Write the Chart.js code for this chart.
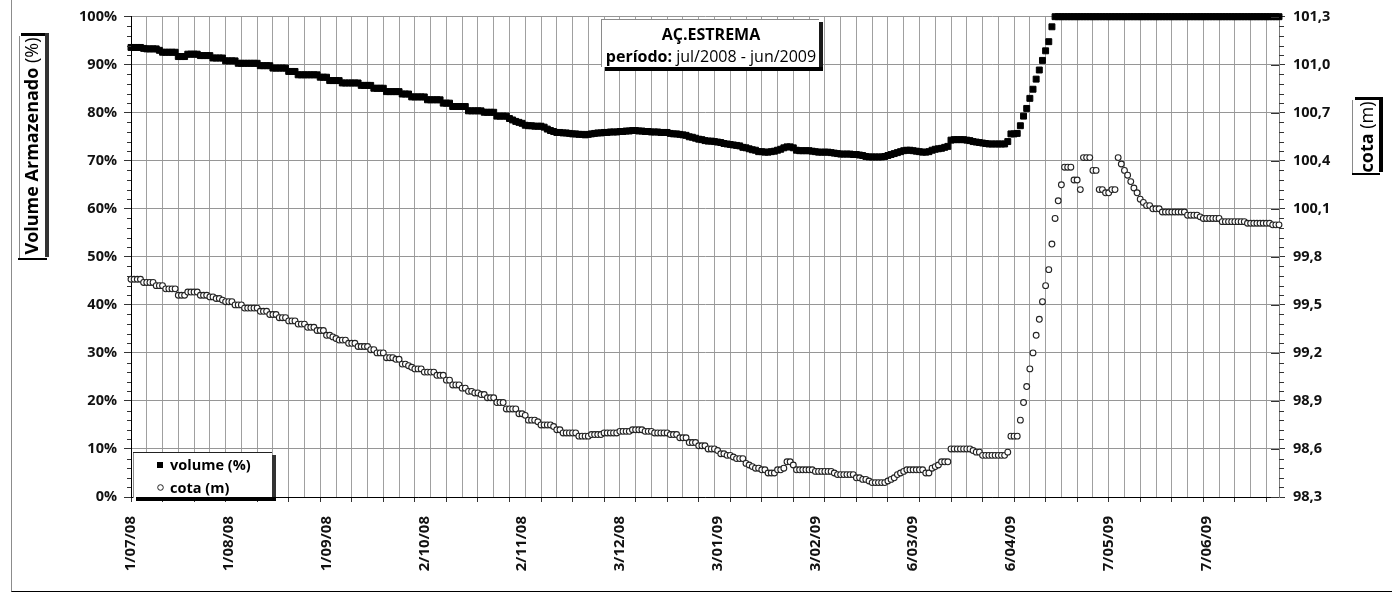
<!DOCTYPE html>
<html><head><meta charset="utf-8">
<script src="https://cdn.jsdelivr.net/npm/chart.js@4.4.1/dist/chart.umd.min.js"></script>
<style>
html,body{margin:0;padding:0;background:#fff;overflow:hidden}
#wrap{position:relative;width:1392px;height:593px;background:#fff}
#frame{position:absolute;left:11px;top:-5px;width:1400px;height:597px;box-sizing:border-box;border-left:1px solid #8c8c8c;border-bottom:1px solid #000;pointer-events:none}
canvas{position:absolute;left:0;top:0}
</style></head><body>
<div id="wrap"><canvas id="c" width="1392" height="593" style="width:1392px;height:593px"></canvas><div id="frame"></div></div>
<script>
const chartTitle = 'AÇ.ESTREMA';
const periodLabel = 'período: ';
const periodText = 'jul/2008 - jun/2009';
const leftAxisTitle = ['Volume Armazenado ', '(%)'];
const rightAxisTitle = ['cota ', '(m)'];
const seriesNames = ['volume (%)', 'cota (m)'];

// x: day index counted from 1/07/2008
const dateTickDays = [0, 31, 62, 93, 124, 155, 186, 217, 248, 279, 310, 341];
const dateTickLabels = ['1/07/08', '1/08/08', '1/09/08', '2/10/08', '2/11/08', '3/12/08', '3/01/09', '3/02/09', '6/03/09', '6/04/09', '7/05/09', '7/06/09'];
const volumeTicks = [0, 10, 20, 30, 40, 50, 60, 70, 80, 90, 100];
const volumeTickLabels = ['0%', '10%', '20%', '30%', '40%', '50%', '60%', '70%', '80%', '90%', '100%'];
const cotaTicks = [98.3, 98.6, 98.9, 99.2, 99.5, 99.8, 100.1, 100.4, 100.7, 101.0, 101.3];
const cotaTickLabels = ['98,3', '98,6', '98,9', '99,2', '99,5', '99,8', '100,1', '100,4', '100,7', '101,0', '101,3'];

// daily volume (%)
const volume = [
93.6,93.6,93.6,93.6,93.4,93.3,93.3,93.3,93.3,93.0,
92.6,92.6,92.6,92.6,92.6,91.7,91.7,91.7,92.2,92.2,
92.2,92.2,91.9,91.9,91.9,91.9,91.4,91.4,91.4,91.4,
90.8,90.8,90.8,90.8,90.3,90.3,90.3,90.3,90.3,90.3,
90.3,89.8,89.8,89.8,89.8,89.3,89.3,89.3,89.3,89.3,
88.6,88.6,88.6,87.9,87.9,87.9,87.9,87.9,87.9,87.9,
87.4,87.4,87.4,86.7,86.7,86.7,86.7,86.2,86.2,86.2,
86.2,86.2,86.2,85.7,85.7,85.7,85.7,85.1,85.1,85.1,
85.1,84.4,84.4,84.4,84.4,84.4,83.9,83.9,83.9,83.3,
83.3,83.3,83.3,83.3,82.7,82.7,82.7,82.7,82.7,82.0,
82.0,82.0,81.3,81.3,81.3,81.3,81.3,80.4,80.4,80.4,
80.4,80.4,80.1,80.1,80.1,80.1,79.3,79.3,79.3,79.3,
78.8,78.5,78.2,78.0,77.8,77.4,77.3,77.3,77.2,77.2,
77.2,77.0,76.6,76.3,76.1,75.9,75.9,75.8,75.8,75.7,
75.6,75.6,75.5,75.5,75.4,75.5,75.6,75.7,75.8,75.8,
75.9,75.9,76.0,76.0,76.0,76.1,76.1,76.2,76.2,76.3,
76.3,76.2,76.2,76.1,76.1,76.0,76.0,76.0,75.9,75.9,
75.9,75.7,75.6,75.6,75.5,75.4,75.3,75.0,74.9,74.7,
74.5,74.4,74.2,74.1,74.1,74.0,73.9,73.8,73.6,73.5,
73.4,73.3,73.2,73.1,72.8,72.7,72.5,72.3,72.2,71.9,
71.9,71.8,71.8,71.9,72.0,72.2,72.4,72.7,72.9,72.9,
72.7,72.2,72.1,72.1,72.1,72.1,72.0,71.9,71.8,71.8,
71.8,71.8,71.7,71.6,71.5,71.4,71.4,71.4,71.4,71.3,
71.3,71.2,71.1,70.9,70.8,70.8,70.8,70.8,70.8,70.9,
71.1,71.3,71.5,71.7,71.9,72.1,72.2,72.2,72.1,72.0,
71.9,71.8,71.8,71.9,72.2,72.4,72.5,72.6,72.8,73.0,
74.3,74.4,74.4,74.4,74.4,74.3,74.2,74.0,73.9,73.8,
73.7,73.6,73.5,73.5,73.5,73.5,73.5,73.5,74.0,75.6,
75.6,75.7,77.3,79.3,80.9,83.0,84.9,87.0,88.9,90.9,
92.9,94.8,97.9,100,100,100,100,100,100,100,
100,100,100,100,100,100,100,100,100,100,
100,100,100,100,100,100,100,100,100,100,
100,100,100,100,100,100,100,100,100,100,
100,100,100,100,100,100,100,100,100,100,
100,100,100,100,100,100,100,100,100,100,
100,100,100,100,100,100,100,100,100,100,
100,100,100,100,100
];

// daily cota (m)
const cota = [
99.66,99.66,99.66,99.66,99.64,99.64,99.64,99.64,99.62,99.62,
99.62,99.60,99.60,99.60,99.60,99.56,99.56,99.56,99.58,99.58,
99.58,99.58,99.56,99.56,99.56,99.55,99.55,99.54,99.54,99.53,
99.52,99.52,99.52,99.50,99.50,99.50,99.48,99.48,99.48,99.48,
99.48,99.46,99.46,99.46,99.44,99.44,99.44,99.42,99.42,99.42,
99.40,99.40,99.40,99.38,99.38,99.38,99.36,99.36,99.36,99.34,
99.34,99.34,99.31,99.31,99.30,99.29,99.28,99.28,99.28,99.26,
99.26,99.26,99.24,99.24,99.24,99.24,99.22,99.22,99.20,99.20,
99.20,99.17,99.17,99.17,99.16,99.16,99.13,99.13,99.12,99.11,
99.10,99.10,99.10,99.08,99.08,99.08,99.08,99.06,99.06,99.06,
99.03,99.03,99.00,99.00,99.00,98.98,98.98,98.96,98.96,98.95,
98.95,98.94,98.94,98.92,98.92,98.92,98.89,98.89,98.89,98.85,
98.85,98.85,98.85,98.82,98.82,98.81,98.78,98.78,98.78,98.77,
98.75,98.75,98.75,98.75,98.74,98.72,98.72,98.70,98.70,98.70,
98.70,98.70,98.68,98.68,98.68,98.68,98.69,98.69,98.69,98.69,
98.70,98.70,98.70,98.70,98.70,98.71,98.71,98.71,98.71,98.72,
98.72,98.72,98.72,98.71,98.71,98.71,98.70,98.70,98.70,98.70,
98.70,98.69,98.69,98.69,98.67,98.67,98.67,98.64,98.64,98.64,
98.62,98.62,98.62,98.60,98.60,98.60,98.59,98.57,98.57,98.56,
98.56,98.55,98.54,98.54,98.54,98.51,98.50,98.49,98.48,98.48,
98.47,98.47,98.45,98.45,98.45,98.47,98.47,98.48,98.52,98.52,
98.50,98.47,98.47,98.47,98.47,98.47,98.47,98.46,98.46,98.46,
98.46,98.46,98.46,98.45,98.44,98.44,98.44,98.44,98.44,98.44,
98.42,98.42,98.41,98.41,98.40,98.39,98.39,98.39,98.39,98.39,
98.40,98.41,98.42,98.44,98.45,98.46,98.47,98.47,98.47,98.47,
98.47,98.47,98.45,98.45,98.48,98.49,98.50,98.52,98.52,98.52,
98.60,98.60,98.60,98.60,98.60,98.60,98.60,98.59,98.58,98.58,
98.56,98.56,98.56,98.56,98.56,98.56,98.56,98.56,98.58,98.68,
98.68,98.68,98.78,98.89,98.99,99.10,99.20,99.31,99.41,99.52,
99.62,99.72,99.88,100.04,100.15,100.25,100.36,100.36,100.36,100.28,
100.28,100.22,100.42,100.42,100.42,100.34,100.34,100.22,100.22,100.20,
100.20,100.22,100.22,100.42,100.38,100.34,100.31,100.27,100.23,100.20,
100.16,100.14,100.12,100.12,100.10,100.10,100.10,100.08,100.08,100.08,
100.08,100.08,100.08,100.08,100.08,100.06,100.06,100.06,100.06,100.05,
100.04,100.04,100.04,100.04,100.04,100.04,100.02,100.02,100.02,100.02,
100.02,100.02,100.02,100.02,100.01,100.01,100.01,100.01,100.01,100.01,
100.01,100.01,100.00,100.00,100.00
];

if (volume.length !== 365 || cota.length !== 365) throw new Error('length ' + volume.length + ' ' + cota.length);

const fontFam = "'Open Sans', sans-serif";

function drawParts(ctx, parts, x, y, align) {
  let total = 0;
  parts.forEach(p => { ctx.font = p.font; p.w = ctx.measureText(p.t).width; total += p.w; });
  let cx = align === 'center' ? x - total / 2 : x;
  ctx.textAlign = 'left';
  parts.forEach(p => { ctx.font = p.font; ctx.fillText(p.t, cx, y); cx += p.w; });
}

const decor = {
  id: 'decor',
  afterDraw(chart) {
    const ctx = chart.ctx;
    const ys = chart.scales.y, ys2 = chart.scales.y2;
    ctx.save();
    // minor ticks
    ctx.strokeStyle = '#333'; ctx.lineWidth = 1;
    ctx.beginPath();
    for (let v = 2; v < 100; v += 2) {
      if (v % 10 === 0) continue;
      const p = Math.round(ys.getPixelForValue(v)) + 0.5;
      ctx.moveTo(ys.right - 4, p); ctx.lineTo(ys.right, p);
    }
    for (let k = 1; k < 50; k++) {
      if (k % 5 === 0) continue;
      const p = Math.round(ys2.getPixelForValue(cotaTicks[0] + k * 0.06)) + 0.5;
      ctx.moveTo(ys2.left, p); ctx.lineTo(ys2.left + 5, p);
    }
    cotaTicks.forEach(v => {
      const p = Math.round(ys2.getPixelForValue(v)) + 0.5;
      ctx.moveTo(ys2.left - 8, p); ctx.lineTo(ys2.left, p);
    });
    ctx.stroke();

    ctx.textBaseline = 'alphabetic';
    // title box
    ctx.fillStyle = '#fff'; ctx.fillRect(602, 19, 218, 48);
    ctx.fillStyle = '#8a8a8a'; ctx.fillRect(601, 19, 1, 48); ctx.fillRect(601, 19, 218, 1);
    ctx.fillStyle = '#1a1a1a'; ctx.fillRect(819, 22, 4, 49);
    ctx.fillStyle = '#000'; ctx.fillRect(605, 67, 218, 4);
    ctx.fillStyle = '#000';
    drawParts(ctx, [{t: chartTitle, font: "bold 16px 'Open Sans'"}], 711, 40, 'center');
    drawParts(ctx, [{t: periodLabel, font: "bold 16px 'Open Sans'"}, {t: periodText, font: "16px 'Open Sans'"}], 711, 62, 'center');

    // legend box
    ctx.fillStyle = '#fff'; ctx.fillRect(134, 453, 138, 45);
    ctx.fillStyle = '#8a8a8a'; ctx.fillRect(133, 453, 1, 45);
    ctx.fillStyle = '#222'; ctx.fillRect(133, 452, 139, 1);
    ctx.fillStyle = '#333'; ctx.fillRect(272, 455, 4, 46);
    ctx.fillStyle = '#000'; ctx.fillRect(136, 497, 140, 4);
    const dsV = chart.data.datasets[0], dsC = chart.data.datasets[1];
    ctx.fillStyle = dsV.pointBackgroundColor; ctx.fillRect(157, 462, 6, 6);
    ctx.beginPath(); ctx.arc(160.5, 487.5, 2.8, 0, Math.PI * 2);
    ctx.fillStyle = dsC.pointBackgroundColor; ctx.fill();
    ctx.strokeStyle = dsC.pointBorderColor; ctx.lineWidth = 1; ctx.stroke();
    ctx.fillStyle = '#000';
    drawParts(ctx, [{t: dsV.label, font: "bold 14.5px 'Open Sans'"}], 170, 470, 'left');
    drawParts(ctx, [{t: dsC.label, font: "bold 14.5px 'Open Sans'"}], 170, 493, 'left');

    // left axis title box
    ctx.fillStyle = '#fff'; ctx.fillRect(19, 36, 26, 222);
    ctx.fillStyle = '#8a8a8a'; ctx.fillRect(19, 36, 1, 224);
    ctx.fillStyle = '#000'; ctx.fillRect(21, 33, 28, 3); ctx.fillRect(18, 258, 29, 2);
    ctx.fillStyle = '#333'; ctx.fillRect(45, 33, 4, 224);
    ctx.save(); ctx.translate(38, 146); ctx.rotate(-Math.PI / 2);
    ctx.fillStyle = '#000';
    drawParts(ctx, [{t: leftAxisTitle[0], font: "bold 18px 'Open Sans'"}, {t: leftAxisTitle[1], font: "18px 'Open Sans'"}], 0, 0, 'center');
    ctx.restore();

    // right axis title box
    ctx.fillStyle = '#fff'; ctx.fillRect(1352, 100, 27, 74);
    ctx.fillStyle = '#8a8a8a'; ctx.fillRect(1352, 100, 1, 75);
    ctx.fillStyle = '#000'; ctx.fillRect(1355, 97, 28, 3); ctx.fillRect(1379, 97, 4, 75); ctx.fillRect(1352, 173, 28, 2);
    ctx.save(); ctx.translate(1373, 137); ctx.rotate(-Math.PI / 2);
    ctx.fillStyle = '#000';
    drawParts(ctx, [{t: rightAxisTitle[0], font: "bold 18px 'Open Sans'"}, {t: rightAxisTitle[1], font: "18px 'Open Sans'"}], 0, 0, 'center');
    ctx.restore();
    ctx.restore();
  }
};

Chart.defaults.font.family = fontFam;
Chart.defaults.color = '#111';

const chart = new Chart(document.getElementById('c'), {
  type: 'scatter',
  data: {
    datasets: [
      {
        label: seriesNames[0], yAxisID: 'y', clip: false,
        data: volume.map((v, i) => ({x: i, y: v})),
        pointStyle: 'rect', pointRadius: 4.2, pointBorderWidth: 1,
        pointBackgroundColor: '#000', pointBorderColor: '#000', showLine: false
      },
      {
        label: seriesNames[1], yAxisID: 'y2', clip: false,
        data: cota.map((v, i) => ({x: i, y: v})),
        pointStyle: 'circle', pointRadius: 2.9, pointBorderWidth: 1.1,
        pointBackgroundColor: '#fff', pointBorderColor: '#222', showLine: false
      }
    ]
  },
  options: {
    responsive: false, animation: false, devicePixelRatio: 1,
    layout: {padding: {top: 15, left: 0, right: 0, bottom: 0}},
    plugins: {legend: {display: false}, tooltip: {enabled: false}},
    events: [],
    scales: {
      x: {
        type: 'linear', min: 0, max: 364,
        afterBuildTicks: (s) => {
          const set = new Set(dateTickDays);
          for (let d = 0; d <= 364; d += 5) set.add(d);
          s.ticks = [...set].sort((a, b) => a - b).map(v => ({value: v}));
        },
        afterFit: (s) => { s.height = 96; },
        ticks: {
          autoSkip: false, minRotation: 90, maxRotation: 90, padding: 14,
          color: '#111', font: {size: 15, weight: 'bold'},
          callback: (v) => { const k = dateTickDays.indexOf(v); return k >= 0 ? dateTickLabels[k] : ''; }
        },
        grid: {
          color: (c) => (c.tick && c.tick.value % 5 === 0) ? '#a0a0a0' : 'rgba(0,0,0,0)',
          tickColor: (c) => (c.tick && c.tick.value % 10 === 0) ? '#333' : 'rgba(0,0,0,0)',
          tickLength: 5, lineWidth: 1
        },
        border: {color: '#000', width: 1}
      },
      y: {
        position: 'left', min: 0, max: 100,
        afterBuildTicks: (s) => { s.ticks = volumeTicks.map(v => ({value: v})); },
        afterFit: (s) => { s.width = 131; },
        ticks: {
          padding: 7, color: '#111', font: {size: 14.5, weight: 'bold'},
          callback: (v) => volumeTickLabels[volumeTicks.indexOf(v)]
        },
        grid: {color: '#969696', tickColor: '#333', tickLength: 7, lineWidth: 1},
        border: {color: '#000', width: 1}
      },
      y2: {
        position: 'right', min: 98.3, max: 101.3,
        afterBuildTicks: (s) => { s.ticks = cotaTicks.map(v => ({value: v})); },
        afterFit: (s) => { s.width = 113; },
        ticks: {
          padding: 8, color: '#111', font: {size: 14.5, weight: 'bold'},
          callback: (v) => { const k = cotaTicks.findIndex(t => Math.abs(t - v) < 1e-6); return k >= 0 ? cotaTickLabels[k] : ''; }
        },
        grid: {drawOnChartArea: false, tickColor: '#333', tickLength: 6},
        border: {color: '#7a7a7a', width: 1}
      }
    }
  },
  plugins: [decor]
});
if (document.fonts && document.fonts.ready) document.fonts.ready.then(() => chart.update());
</script>
</body></html>
